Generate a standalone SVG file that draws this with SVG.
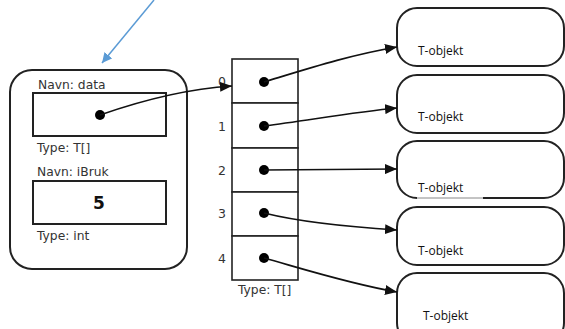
<svg xmlns="http://www.w3.org/2000/svg" width="565" height="329" viewBox="0 0 565 329">
<defs>
<marker id="ah" viewBox="0 0 12 10" refX="12" refY="5" markerWidth="12" markerHeight="10" markerUnits="userSpaceOnUse" orient="auto">
<path d="M0,0 L12,5 L0,10 Z" fill="#111"/>
</marker>
<marker id="bh" viewBox="0 0 10 10" refX="10" refY="5" markerWidth="10" markerHeight="10" markerUnits="userSpaceOnUse" orient="auto">
<path d="M0,0 L10,5 L0,10 Z" fill="#5b9bd5"/>
</marker>
</defs>
<style>
.lbl{font-family:"DejaVu Sans",sans-serif;font-size:12.3px;fill:#333}
.idx{font-family:"DejaVu Sans",sans-serif;font-size:12.5px;fill:#333;text-anchor:middle}
.obj{font-family:"Open Sans",sans-serif;font-size:12px;fill:#111}
.box{fill:#fff;stroke:#222;stroke-width:2}
.cell{fill:#fff;stroke:#222;stroke-width:1.6}
.dot{fill:#000}
.conn{fill:none;stroke:#111;stroke-width:1.6;marker-end:url(#ah)}
</style>
<rect width="565" height="329" fill="#fff"/>

<g id="objekt">
<rect class="box" x="10" y="70" width="177" height="199" rx="22"/>
<text class="lbl" x="38" y="89">Navn: data</text>
<rect class="box" x="33" y="93" width="133" height="43"/>
<circle class="dot" cx="100" cy="115" r="5"/>
<text class="lbl" x="37" y="152">Type: T[]</text>
<text class="lbl" x="37" y="176">Navn: iBruk</text>
<rect class="box" x="33" y="181" width="133" height="43"/>
<text x="99" y="209" font-family="DejaVu Sans, sans-serif" font-size="17" font-weight="bold" fill="#111" text-anchor="middle">5</text>
<text class="lbl" x="37" y="240">Type: int</text>
</g>

<g id="array">
<rect class="cell" x="232" y="59" width="66" height="44"/>
<rect class="cell" x="232" y="103" width="66" height="45"/>
<rect class="cell" x="232" y="148" width="66" height="44"/>
<rect class="cell" x="232" y="192" width="66" height="44"/>
<rect class="cell" x="232" y="236" width="66" height="44"/>
<circle class="dot" cx="264" cy="82" r="5"/>
<circle class="dot" cx="264" cy="126" r="5"/>
<circle class="dot" cx="264" cy="170" r="5"/>
<circle class="dot" cx="264" cy="213" r="5"/>
<circle class="dot" cx="264" cy="258" r="5"/>
<text class="idx" x="222" y="86">0</text>
<text class="idx" x="222" y="131">1</text>
<text class="idx" x="222" y="175">2</text>
<text class="idx" x="222" y="218">3</text>
<text class="idx" x="222" y="263">4</text>
<text class="lbl" x="238" y="294">Type: T[]</text>
</g>

<g id="t0">
<rect class="box" x="397" y="8" width="167" height="58" rx="20"/>
<text class="obj" x="418" y="55">T-objekt</text>
</g>
<g id="t1">
<rect class="box" x="397" y="75" width="167" height="58" rx="20"/>
<text class="obj" x="418" y="121">T-objekt</text>
</g>
<g id="t2">
<path d="M483,198 L544,198 A20,20 0 0 0 564,178 L564,161 A20,20 0 0 0 544,141 L417,141 A20,20 0 0 0 397,161 L397,178 A20,20 0 0 0 417,198" fill="#fff" stroke="#222" stroke-width="2"/>
<line x1="417" y1="198" x2="483" y2="198" stroke="#888" stroke-width="1"/>
<text class="obj" x="418" y="192">T-objekt</text>
</g>
<g id="t3">
<rect class="box" x="397" y="207" width="167" height="58" rx="20"/>
<text class="obj" x="418" y="255">T-objekt</text>
</g>
<g id="t4">
<rect class="box" x="397" y="273" width="167" height="70" rx="20"/>
<text class="obj" x="423" y="320">T-objekt</text>
</g>

<g id="connectors">
<line x1="154" y1="0" x2="102" y2="63" stroke="#5b9bd5" stroke-width="1.5" marker-end="url(#bh)"/>
<path class="conn" d="M100,115 C140,101 185,89 232,86"/>
<path class="conn" d="M264,82 C310,68 350,55 397,47"/>
<path class="conn" d="M264,126 C310,120 355,112 397,108"/>
<path class="conn" d="M264,170 L397,169"/>
<path class="conn" d="M264,213 C300,222 350,227 397,230"/>
<path class="conn" d="M264,258 C300,268 350,284 397,292"/>
</g>
</svg>
